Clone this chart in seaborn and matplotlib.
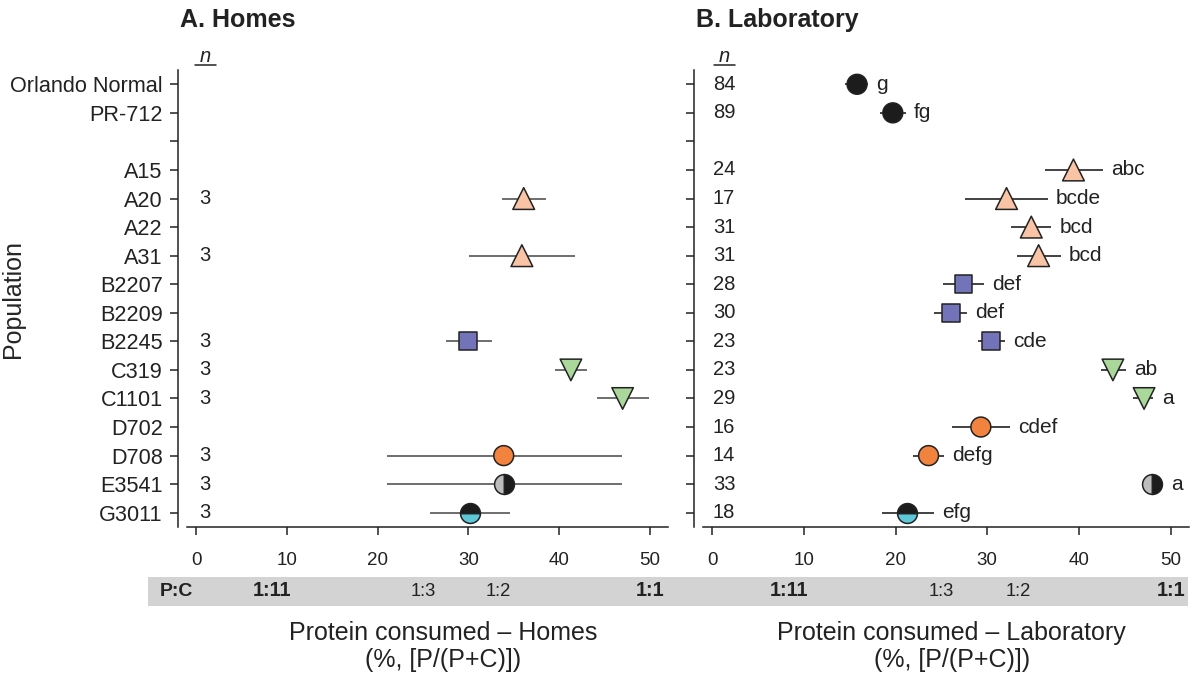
import matplotlib
matplotlib.use("Agg")
import matplotlib.pyplot as plt
import matplotlib.transforms as mtransforms
from matplotlib.patches import Rectangle
from matplotlib.lines import Line2D
import numpy as np
import pandas as pd
import seaborn as sns

nan = np.nan

# rows from top to bottom (third row is an empty spacer)
populations = ["Orlando Normal", "PR-712", "", "A15", "A20", "A22", "A31", "B2207",
               "B2209", "B2245", "C319", "C1101", "D702", "D708", "E3541", "G3011"]
groups = ["lab", "lab", "none", "A", "A", "A", "A", "B",
          "B", "B", "C", "C", "D", "D", "E", "G"]

# A. Homes: mean and error bar ends (% protein)
homes_mean = [nan, nan, nan, nan, 36.1, nan, 35.9, nan, nan, 30.0, 41.3, 47.0, nan, 33.9, 33.9, 30.2]
homes_lo = [nan, nan, nan, nan, 33.7, nan, 30.1, nan, nan, 27.5, 39.5, 44.2, nan, 21.0, 21.0, 25.8]
homes_hi = [nan, nan, nan, nan, 38.6, nan, 41.7, nan, nan, 32.6, 43.1, 49.9, nan, 46.9, 46.9, 34.6]
homes_n = ["", "", "", "", "3", "", "3", "", "", "3", "3", "3", "", "3", "3", "3"]

# B. Laboratory
lab_mean = [15.8, 19.7, nan, 39.4, 32.1, 34.8, 35.6, 27.4, 26.0, 30.4, 43.7, 47.1, 29.3, 23.6, 48.0, 21.3]
lab_lo = [14.5, 18.3, nan, 36.3, 27.6, 32.6, 33.2, 25.2, 24.2, 29.0, 42.4, 45.9, 26.2, 21.9, 47.6, 18.5]
lab_hi = [17.0, 21.1, nan, 42.6, 36.6, 37.0, 38.0, 29.6, 27.8, 31.9, 45.1, 48.1, 32.5, 25.3, 48.4, 24.2]
lab_n = ["84", "89", "", "24", "17", "31", "31", "28", "30", "23", "23", "29", "16", "14", "33", "18"]
lab_letters = ["g", "fg", "", "abc", "bcde", "bcd", "bcd", "def", "def", "cde", "ab", "a",
               "cdef", "defg", "a", "efg"]

# P:C diet ratios shown under the axes
ratio_labels = ["1:11", "1:3", "1:2", "1:1"]
ratio_p = [1, 1, 1, 1]
ratio_c = [11, 3, 2, 1]
ratio_bold = [True, False, False, True]

palette = {"lab": "#1c1c1c", "A": "#f9c4a6", "B": "#7373b9", "C": "#a9d89a", "D": "#f2833f"}
markers = {"lab": "o", "A": "^", "B": "s", "C": "v", "D": "o"}
sizes = {"lab": 205, "A": 245, "B": 165, "C": 240, "D": 205}
half = {"E": ("left", "#bdbdbd", "#1c1c1c"), "G": ("bottom", "#5fc8d8", "#1c1c1c")}

sns.set_style("ticks")
plt.rcParams["font.family"] = ["Liberation Sans", "DejaVu Sans"]
plt.rcParams["text.color"] = "#222222"

fig = plt.figure(figsize=(11.98, 6.75), dpi=100)
ax_h = fig.add_axes([187 / 1198, 148 / 675, 481 / 1198, 457 / 675])
ax_l = fig.add_axes([703 / 1198, 148 / 675, 486 / 1198, 457 / 675])


def draw_panel(ax, mean, lo, hi, err_color):
    df = pd.DataFrame({"pos": np.arange(len(populations)), "mean": mean, "lo": lo,
                       "hi": hi, "group": groups}).dropna(subset=["mean"])
    ax.hlines(df["pos"], df["lo"], df["hi"], color=err_color, lw=1.2, zorder=1)
    full = df[df["group"].isin(markers.keys())]
    sns.scatterplot(data=full, x="mean", y="pos", hue="group", style="group", size="group",
                    palette=palette, markers=markers, sizes=sizes, edgecolor="#222222",
                    linewidth=1.1, legend=False, ax=ax, zorder=3)
    for _, r in df[df["group"].isin(half.keys())].iterrows():
        fs, c1, c2 = half[r["group"]]
        ax.plot(r["mean"], r["pos"], marker="o", ms=14.3, fillstyle=fs, mfc=c1,
                mfcalt=c2, mec="#222222", mew=1.1, ls="none", zorder=3)
    return df


def style_panel(ax, n_values, n_x, title, xlabel_x):
    ax.set_xlim(-1, 52)
    ax.set_ylim(15.5, -0.5)
    ax.set_xticks(range(0, 51, 10))
    ax.set_yticks(range(len(populations)))
    ax.set_xlabel("")
    ax.set_ylabel("")
    for s in ["top", "right"]:
        ax.spines[s].set_visible(False)
    ax.spines["left"].set_position(("outward", 6.5))
    for s in ["left", "bottom"]:
        ax.spines[s].set_linewidth(1.1)
        ax.spines[s].set_color("#222222")
    ax.tick_params(axis="both", length=6, width=1.1, color="#222222", labelsize=13.5,
                   labelcolor="#222222")
    ax.tick_params(axis="x", pad=12)
    tr = mtransforms.blended_transform_factory(ax.transData, ax.transAxes)
    for i, n in enumerate(n_values):
        if n:
            ax.text(n_x, i, n, ha="center", va="center", fontsize=14.5)
    ax.text(n_x, 1.0285, "n", transform=tr, ha="center", va="center", fontsize=14.5,
            style="italic")
    ax.add_line(Line2D([n_x - 1.15, n_x + 1.15], [1.012, 1.012], transform=tr,
                       color="#222222", lw=1.1, clip_on=False))
    ax.text(-0.0145, 1.109, title, transform=ax.transAxes, ha="left", va="center",
            fontsize=18, fontweight="bold")
    ax.text(xlabel_x, -0.205, "Protein consumed \u2013 " + title[3:] + "\n(%, [P/(P+C)])",
            transform=ax.transAxes, ha="center", va="top", fontsize=18, linespacing=1.2)
    band_tr = mtransforms.blended_transform_factory(ax.transData, fig.transFigure)
    for lab, p, c, b in zip(ratio_labels, ratio_p, ratio_c, ratio_bold):
        fig.text(100 * p / (p + c), 1 - 591 / 675, lab, transform=band_tr, ha="center",
                 va="center", fontsize=14.2 if b else 13.2, family="Liberation Sans",
                 color="#222222", fontweight="bold" if b else "normal", zorder=2)


draw_panel(ax_h, homes_mean, homes_lo, homes_hi, "#555555")
lab_df = draw_panel(ax_l, lab_mean, lab_lo, lab_hi, "#222222")

style_panel(ax_h, homes_n, 1.0, "A. Homes", 0.532)
style_panel(ax_l, lab_n, 1.3, "B. Laboratory", 0.512)

ax_h.set_yticklabels(populations, fontsize=15.6)
ax_h.tick_params(axis="y", pad=5)
ax_l.set_yticklabels([])
ax_h.set_ylabel("Population", fontsize=18)
ax_h.yaxis.set_label_coords(-0.337, 0.5)

# significance letters next to laboratory points
for _, r in lab_df.iterrows():
    x_end = max(r["hi"], r["mean"] + 1.1)
    ax_l.annotate(lab_letters[int(r["pos"])], (x_end, r["pos"]), xytext=(6, 0),
                  textcoords="offset points", ha="left", va="center", fontsize=15)

# grey P:C band
fig.patches.append(Rectangle((148 / 1198, 1 - 606 / 675), 1040 / 1198, 29 / 675,
                             transform=fig.transFigure, facecolor="#d2d3d2",
                             edgecolor="none", zorder=-1))
fig.text(160 / 1198, 1 - 591 / 675, "P:C", ha="left", va="center", fontsize=14,
         fontweight="bold", zorder=2)

fig.savefig("out.png", dpi=100)
